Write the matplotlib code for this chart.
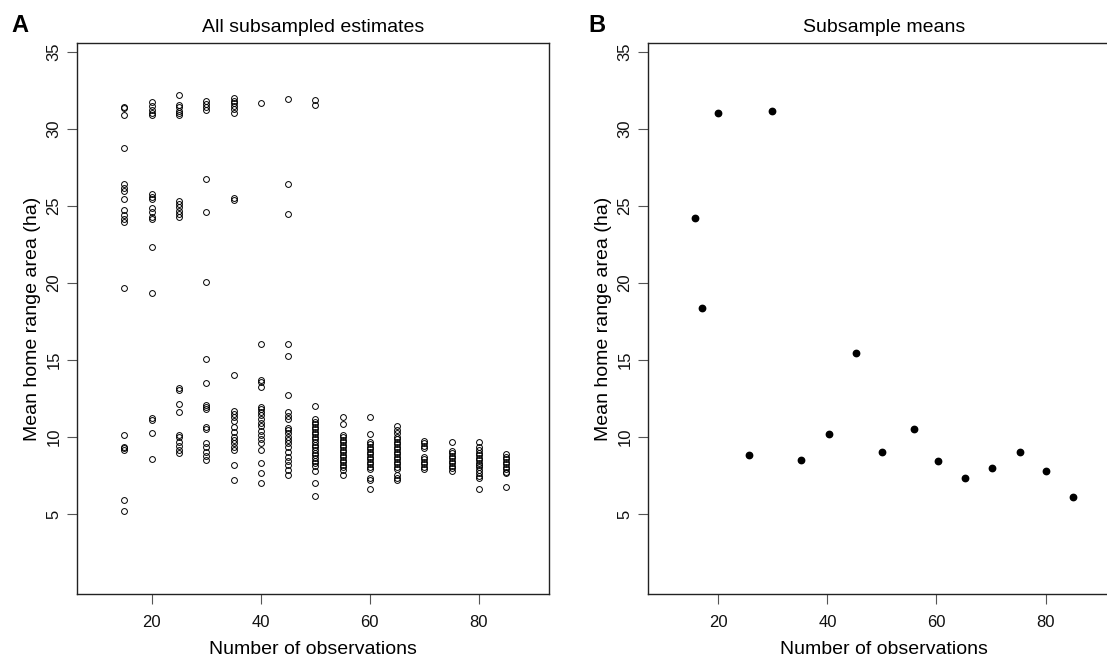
import numpy as np
import matplotlib.pyplot as plt

plt.rcParams['font.family'] = ['Liberation Sans', 'DejaVu Sans']

# ------------------------------------------------------------
# DATA: panel A, every subsampled estimate, grouped by n
# ------------------------------------------------------------

n_obs = [15, 20, 25, 30, 35, 40, 45, 50, 55, 60, 65, 70, 75, 80, 85]

est_15 = [31.44, 31.35, 30.92, 28.76, 26.44, 26.14, 25.99, 25.45, 24.73, 24.41,
          24.13, 23.93, 19.65, 10.14, 9.39, 9.28, 9.17, 5.93, 5.21]
est_20 = [31.76, 31.5, 31.22, 31.0, 30.9, 25.75, 25.6, 25.45, 24.89, 24.58,
          24.3, 24.13, 22.36, 19.37, 11.22, 11.12, 10.29, 8.57]
est_25 = [32.19, 31.54, 31.39, 31.18, 31.0, 30.87, 25.34, 25.12, 24.95, 24.69,
          24.47, 24.3, 13.17, 13.06, 12.13, 11.66, 10.14, 10.03, 9.71, 9.43,
          9.17, 8.95]
est_30 = [31.82, 31.61, 31.39, 31.22, 26.74, 24.63, 20.07, 15.05, 13.54, 12.09,
          11.98, 11.81, 10.64, 10.53, 9.6, 9.34, 9.06, 8.8, 8.52]
est_35 = [31.98, 31.82, 31.65, 31.48, 31.26, 31.05, 25.49, 25.38, 14.03, 11.72,
          11.5, 11.29, 11.07, 10.64, 10.36, 10.03, 9.82, 9.6, 9.39, 9.17,
          8.2, 7.22]
est_40 = [31.7, 16.02, 13.71, 13.58, 13.23, 11.98, 11.81, 11.66, 11.44, 11.18,
          10.94, 10.73, 10.42, 10.14, 9.86, 9.6, 9.17, 8.31, 7.66, 7.0]
est_45 = [31.91, 26.42, 24.47, 16.07, 15.25, 12.76, 11.61, 11.4, 11.16, 10.58,
          10.47, 10.25, 10.03, 9.82, 9.6, 9.39, 9.06, 8.74, 8.48, 8.2,
          7.87, 7.55]
est_50 = [31.87, 31.55, 12.05, 11.18, 11.01, 10.86, 10.68, 10.51, 10.36, 10.19,
          10.03, 9.86, 9.67, 9.49, 9.34, 9.17, 9.0, 8.85, 8.67, 8.48,
          8.31, 8.13, 7.83, 7.03, 6.21]
est_55 = [11.29, 10.84, 10.14, 9.99, 9.82, 9.67, 9.49, 9.34, 9.17, 9.02,
          8.85, 8.7, 8.52, 8.37, 8.2, 8.05, 7.87, 7.55]
est_60 = [11.29, 10.19, 9.71, 9.56, 9.39, 9.23, 9.06, 8.91, 8.74, 8.59,
          8.41, 8.26, 8.09, 7.94, 7.33, 7.22, 6.62]
est_65 = [10.73, 10.47, 10.25, 10.03, 9.86, 9.71, 9.54, 9.39, 9.21, 9.06,
          8.89, 8.74, 8.57, 8.41, 8.24, 8.09, 7.94, 7.55, 7.38, 7.2]
est_70 = [9.78, 9.6, 9.45, 9.28, 8.74, 8.59, 8.41, 8.26, 8.09, 7.92]
est_75 = [9.71, 9.13, 8.95, 8.8, 8.63, 8.48, 8.31, 8.15, 7.98, 7.83]
est_80 = [9.71, 9.39, 9.17, 9.0, 8.83, 8.67, 8.52, 8.35, 8.2, 8.05,
          7.87, 7.7, 7.48, 7.33, 6.62]
est_85 = [8.91, 8.74, 8.57, 8.41, 8.26, 8.09, 7.94, 7.76, 7.66, 6.75]

estimates = [est_15, est_20, est_25, est_30, est_35, est_40, est_45, est_50,
             est_55, est_60, est_65, est_70, est_75, est_80, est_85]

# ------------------------------------------------------------
# DATA: panel B, subsample means
# ------------------------------------------------------------

mean_n = [15.7, 17.0, 19.9, 25.7, 29.9, 35.2, 40.3, 45.3,
          50.0, 55.8, 60.3, 65.2, 70.2, 75.3, 80.0, 85.1]
mean_area = [24.2, 18.4, 31.0, 8.84, 31.14, 8.49, 10.2, 15.48,
             9.07, 10.5, 8.45, 7.36, 7.98, 9.07, 7.8, 6.09]

# ------------------------------------------------------------
# FIGURE
# ------------------------------------------------------------

W, H = 1107, 662
fig = plt.figure(figsize=(W / 100, H / 100), dpi=100)

ax_w = 472.6 / W
ax_b = 1 - 594 / H
ax_h = (594 - 43.3) / H
axA = fig.add_axes([76.7 / W, ax_b, ax_w, ax_h])
axB = fig.add_axes([647.7 / W, ax_b, ax_w, ax_h])

for n, vals in zip(n_obs, estimates):
    axA.plot([n] * len(vals), vals, 'o', ms=4.2, mfc='none', mec='black', mew=0.7)

axB.plot(mean_n, mean_area, 'o', ms=4.6, color='black')

axA.set_xlim(6.25, 92.9)
axB.set_xlim(7.06, 93.7)

for ax, title, letter, lx in [(axA, 'All subsampled estimates', 'A', 20),
                              (axB, 'Subsample means', 'B', 597)]:
    ax.set_ylim(-0.17, 35.55)
    ax.set_xticks([20, 40, 60, 80])
    ax.set_yticks([5, 10, 15, 20, 25, 30, 35])
    ax.tick_params(direction='out', length=7, width=0.8, color='#555555',
                   labelsize=12, labelcolor='#111111')
    ax.tick_params(axis='x', pad=8)
    ax.tick_params(axis='y', pad=4, labelrotation=90)
    for t in ax.get_yticklabels():
        t.set_va('center')
    for s in ax.spines.values():
        s.set_linewidth(1.0)
        s.set_color('#222222')
    ax.set_title(title, fontsize=14, pad=8)
    ax.set_xlabel('Number of observations', fontsize=14, va='center')
    ax.set_ylabel('Mean home range area (ha)', fontsize=14, va='center')
    ax.xaxis.set_label_coords(0.5, -(650 - 594) / 550.7)
    ax.yaxis.set_label_coords(-(76.7 - 33) / 472.6, 0.5)
    fig.text(lx / W, 1 - 25 / H, letter, fontsize=17, fontweight='bold',
             ha='center', va='center')

fig.savefig('out.png', dpi=100)
